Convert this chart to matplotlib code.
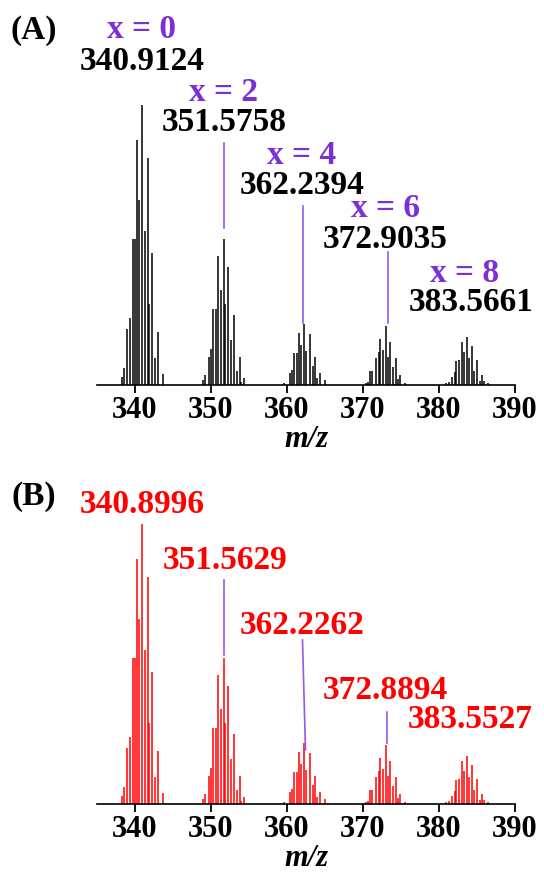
import numpy as np
import matplotlib
matplotlib.use("Agg")
import matplotlib.pyplot as plt

# %%
# DATA (relative intensities, tallest peak = 1)

cluster1_mz = [338.25, 338.55, 338.90, 339.34, 339.69, 340.04, 340.22, 340.57, 340.96,
               341.36, 341.75, 341.89, 342.24, 342.63, 343.00, 343.64]
cluster1_int = [0.03, 0.06, 0.20, 0.24, 0.52, 0.52, 0.875, 0.66, 1.0,
                0.55, 0.81, 0.29, 0.47, 0.095, 0.19, 0.04]

cluster2_mz = [348.90, 349.25, 349.70, 350.00, 350.20, 350.60, 350.96, 351.30, 351.70,
               351.90, 352.30, 352.60, 353.00, 353.40, 353.80, 353.90, 354.30]
cluster2_int = [0.017, 0.037, 0.10, 0.13, 0.27, 0.27, 0.46, 0.34, 0.52,
                0.29, 0.42, 0.16, 0.25, 0.05, 0.10, 0.01, 0.026]

cluster3_mz = [359.60, 360.40, 360.66, 360.90, 361.30, 361.60, 361.80, 362.20,
               362.50, 363.00, 363.40, 363.70, 363.90, 364.30, 365.00]
cluster3_int = [0.006, 0.042, 0.052, 0.113, 0.113, 0.187, 0.143, 0.219,
                0.121, 0.183, 0.068, 0.10, 0.026, 0.042, 0.017]

cluster4_mz = [370.40, 370.60, 370.96, 371.20, 371.70, 372.06, 372.30, 372.60,
               373.00, 373.30, 373.60, 373.90, 374.30, 374.60, 374.90, 375.50]
cluster4_int = [0.008, 0.012, 0.05, 0.05, 0.098, 0.119, 0.163, 0.125,
                0.21, 0.099, 0.155, 0.065, 0.095, 0.02, 0.036, 0.006]

cluster5_mz = [380.92, 381.30, 381.70, 382.10, 382.20, 382.60, 383.00, 383.30, 383.70,
               383.90, 384.30, 384.60, 385.00, 385.40, 385.60, 385.90, 386.40]
cluster5_int = [0.006, 0.011, 0.03, 0.045, 0.085, 0.089, 0.155, 0.117, 0.17,
                0.095, 0.14, 0.05, 0.089, 0.015, 0.036, 0.014, 0.006]

x_labels = ["x = 0", "x = 2", "x = 4", "x = 6", "x = 8"]
masses_a = ["340.9124", "351.5758", "362.2394", "372.9035", "383.5661"]
masses_b = ["340.8996", "351.5629", "362.2262", "372.8894", "383.5527"]
xticks = [340, 350, 360, 370, 380, 390]

all_mz = np.concatenate([cluster1_mz, cluster2_mz, cluster3_mz, cluster4_mz, cluster5_mz])
all_int = np.concatenate([cluster1_int, cluster2_int, cluster3_int, cluster4_int, cluster5_int])

# %%
# STYLE

plt.rcParams["font.family"] = ["Liberation Serif", "DejaVu Serif"]
plt.rcParams["font.weight"] = "bold"

PURPLE_TEXT = "#7b2fd6"
PURPLE_LINE = "#9a55ee"
FS = 24

fig = plt.figure(figsize=(5.44, 8.75), dpi=100)
ax_a = fig.add_axes([97 / 544, 1 - 385 / 875, 418 / 544, 385 / 875])
ax_b = fig.add_axes([97 / 544, 1 - 804 / 875, 418 / 544, 385 / 875])


def setup_axis(ax, color):
    ax.vlines(all_mz, 0, all_int, color=color, linewidth=1.1)
    ax.set_xlim(335, 390)
    ax.set_ylim(0, 1.375)
    for s in ["left", "top", "right"]:
        ax.spines[s].set_visible(False)
    ax.spines["bottom"].set_linewidth(1.2)
    ax.set_yticks([])
    ax.set_xticks(xticks)
    ax.tick_params(axis="x", direction="out", length=6, width=1.3, labelsize=22, pad=2)
    for lab in ax.get_xticklabels():
        lab.set_fontweight("bold")
    ax.set_xlabel("m/z", fontsize=22, fontstyle="italic", fontweight="bold", labelpad=0)
    ax.patch.set_alpha(0)


setup_axis(ax_a, "black")
setup_axis(ax_b, "red")

# %%
# PANEL A ANNOTATIONS

xlab_pos = [(340.79, 1.271), (351.58, 1.046), (361.97, 0.818), (372.90, 0.632), (383.42, 0.400)]
mass_pos_a = [(340.92, 1.157), (351.71, 0.939), (361.97, 0.714), (372.96, 0.521), (384.20, 0.293)]
for t, (x, y) in zip(x_labels, xlab_pos):
    ax_a.text(x, y, t, color=PURPLE_TEXT, fontsize=FS, fontweight="bold", ha="center", va="center")
for t, (x, y) in zip(masses_a, mass_pos_a):
    ax_a.text(x, y, t, color="black", fontsize=FS, fontweight="bold", ha="center", va="center")

ax_a.plot([351.71, 351.71], [0.864, 0.561], color=PURPLE_LINE, lw=1.2)
ax_a.plot([362.07, 362.07], [0.639, 0.221], color=PURPLE_LINE, lw=1.2)
ax_a.plot([373.30, 373.30], [0.475, 0.221], color=PURPLE_LINE, lw=1.2)

# %%
# PANEL B ANNOTATIONS

mass_pos_b = [(340.92, 1.071), (351.84, 0.868), (361.97, 0.639), (372.96, 0.407), (384.05, 0.300)]
for t, (x, y) in zip(masses_b, mass_pos_b):
    ax_b.text(x, y, t, color="red", fontsize=FS, fontweight="bold", ha="center", va="center")

ax_b.plot([351.70, 351.70], [0.800, 0.532], color=PURPLE_LINE, lw=1.2)
ax_b.plot([362.04, 362.43], [0.586, 0.193], color=PURPLE_LINE, lw=1.2)
ax_b.plot([373.10, 373.10], [0.330, 0.218], color=PURPLE_LINE, lw=1.2)

fig.text(34 / 544, 1 - 30 / 875, "(A)", fontsize=FS, fontweight="bold", ha="center", va="center")
fig.text(34 / 544, 1 - 497 / 875, "(B)", fontsize=FS, fontweight="bold", ha="center", va="center")

fig.savefig("out.png", dpi=100)
